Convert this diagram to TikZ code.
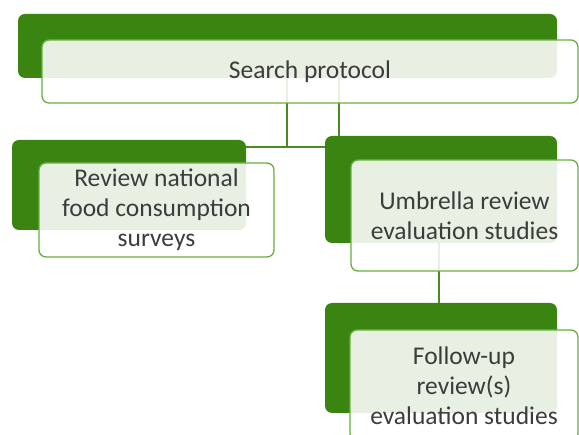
\documentclass[tikz,border=0pt]{standalone}
\usepackage{fontspec}
\setmainfont{Carlito}
\begin{document}
\begin{tikzpicture}[x=1pt,y=-1pt,
  gbox/.style={draw=none, fill=darkgreen, rounded corners=7pt, inner sep=0pt},
  wbox/.style={draw=lightgreen, line width=1.3pt, fill=white, fill opacity=0.88, text opacity=1,
    rounded corners=7pt, inner sep=0pt, align=center, text=textgray,
    font=\fontsize{25.5}{30}\selectfont},
  link/.style={draw=linegreen, line width=1.5pt}]
\definecolor{darkgreen}{HTML}{3A8511}
\definecolor{lightgreen}{HTML}{6AAE3F}
\definecolor{linegreen}{HTML}{4A8A22}
\definecolor{textgray}{HTML}{3C3C3C}
\useasboundingbox (0,0) rectangle (579,435);
\clip (0,0) rectangle (579,435);
% anchor coordinates for connectors
\coordinate (t1) at (287,60);
\coordinate (t2) at (339,60);
\coordinate (bend) at (287,147);
\coordinate (r1) at (439,200);
% green back boxes
\node[gbox, minimum width=539pt, minimum height=64pt] (gtop) at (287.5,46) {};
\node[gbox, minimum width=234pt, minimum height=90pt] (gleft) at (129,185) {};
\node[gbox, minimum width=232pt, minimum height=107pt] (gright) at (441,189.5) {};
\node[gbox, minimum width=232pt, minimum height=110pt] (gbot) at (441,358) {};
% connectors
\path[link] (t1 |- gtop.south) -- (bend);
\path[link] (bend -| gleft.east) -- (bend -| gright.west);
\path[link] (t2 |- gtop.south) -- (t2 |- gright.north);
\path[link] (r1 |- gright.south) -- (r1 |- gbot.north);
% front boxes
\node[wbox, minimum width=536pt, minimum height=63pt] (wtop) at (310,71.5) {Search protocol};
\node[wbox, minimum width=235pt, minimum height=94pt] (wleft) at (156.5,210) {Review national\\food consumption\\surveys};
\node[wbox, minimum width=227pt, minimum height=111pt] (wright) at (464.5,215.5) {Umbrella review\\evaluation studies};
\node[wbox, minimum width=228pt, minimum height=111pt] (wbot) at (464,385.5) {Follow-up\\review(s)\\evaluation studies};
\end{tikzpicture}
\end{document}
